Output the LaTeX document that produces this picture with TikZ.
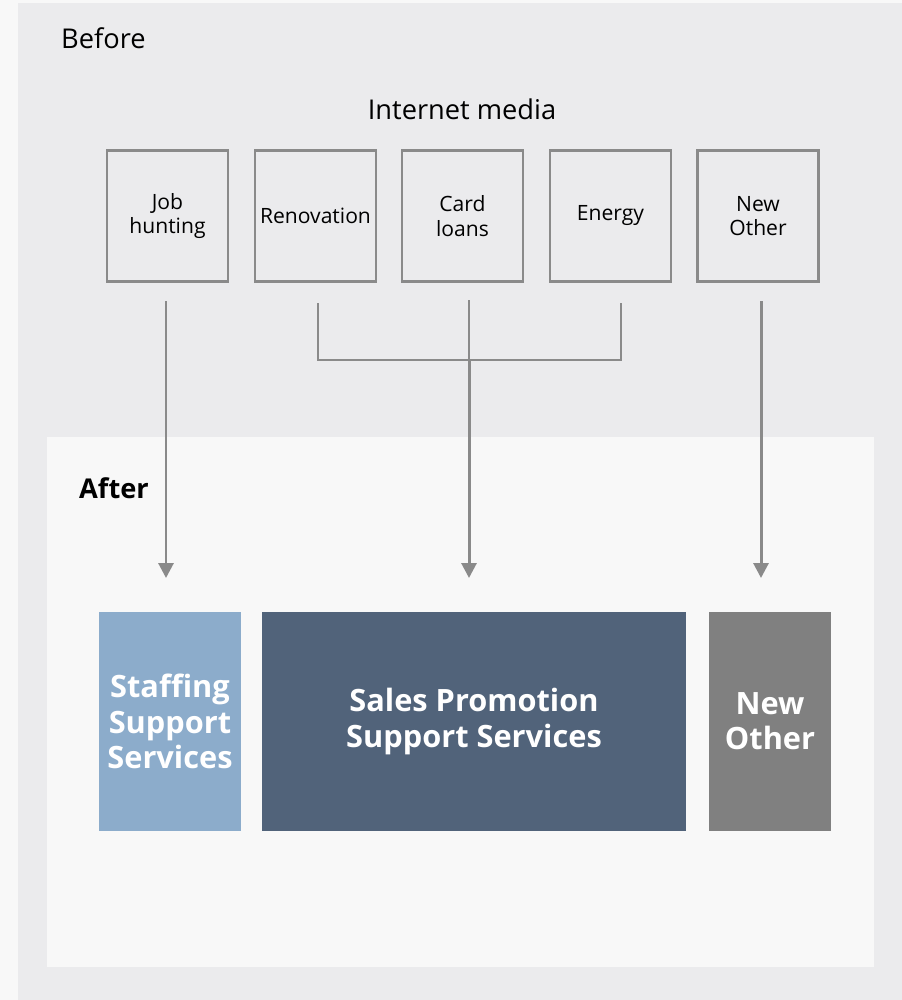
\documentclass[tikz,border=0pt]{standalone}
\usepackage{fontspec}
\setmainfont{Open Sans}
\usetikzlibrary{arrows.meta}
\definecolor{beforebg}{HTML}{EBEBED}
\definecolor{afterbg}{HTML}{F8F8F8}
\definecolor{linegray}{HTML}{8A8A8A}
\definecolor{staffblue}{HTML}{8CACCB}
\definecolor{salesblue}{HTML}{51637A}
\definecolor{othergray}{HTML}{808080}
\begin{document}
\begin{tikzpicture}[x=0.02cm,y=-0.02cm]
    \tikzstyle{media}=[draw=linegray,line width=1.2pt,fill=beforebg,minimum width=2.42cm,minimum height=2.62cm,align=center,inner sep=0pt,font=\fontsize{12}{14}\selectfont]
    \tikzstyle{service}=[minimum height=4.38cm,align=center,inner sep=0pt,text=white,font=\fontsize{17.5}{20}\selectfont\bfseries]
    \tikzstyle{bracket}=[draw=linegray,line width=1pt]
    \tikzstyle{flow}=[draw=linegray,line width=1.7pt,-{Triangle[width=8.5pt,length=8.5pt]}]
    % panels
    \fill[afterbg](0,0)rectangle(902,1000);
    \fill[beforebg](18,3)rectangle(902,1000);
    \fill[afterbg](47,437)rectangle(874,967);
    \node[anchor=west,font=\fontsize{15.5}{18}\selectfont](before)at(55,38){Before};
    \node[font=\fontsize{15.5}{18}\selectfont](media)at(462,109){Internet media};
    \node[anchor=west,font=\fontsize{15.5}{18}\selectfont\bfseries](after)at(73,488){After};
    % media boxes
    \draw node[media](job)at(167.5,216){Job\\hunting}
          node[media](reno)at(315.5,216){Renovation}
          node[media](card)at(462.5,216){Card\\loans}
          node[media](energy)at(610.5,216){Energy}
          node[media](newold)at(758,216){New\\Other};
    % services
    \draw node[service,fill=staffblue,minimum width=2.84cm](staff)at(170,721.5){Staffing\\Support\\Services}
          node[service,fill=salesblue,minimum width=8.48cm](sales)at(474,721.5){Sales Promotion\\Support Services}
          node[service,fill=othergray,minimum width=2.44cm](other)at(770,721.5){New\\Other};
    % connectors
    \coordinate(j1)at(166,301);
    \coordinate(j2)at(166,578);
    \coordinate(r1)at(318,303);
    \coordinate(c1)at(469,300);
    \coordinate(e1)at(621,303);
    \coordinate(hub)at(469,360);
    \coordinate(s2)at(469,578);
    \coordinate(n1)at(761,301);
    \coordinate(n2)at(761,578);
    \draw[bracket](r1)--(r1|-hub)--(e1|-hub)--(e1);
    \draw[bracket](c1)--(hub);
    \draw[flow](j1)--(j2);
    \draw[flow](hub)--(s2);
    \draw[flow](n1)--(n2);
  \end{tikzpicture}
\end{document}
